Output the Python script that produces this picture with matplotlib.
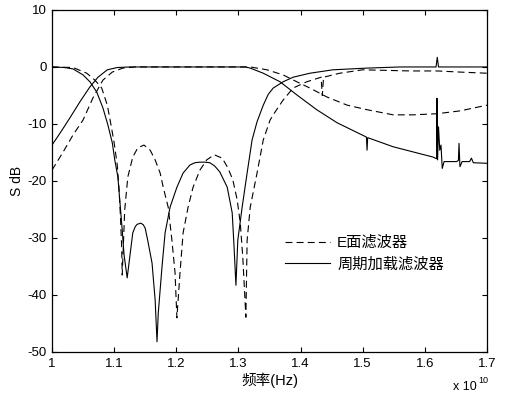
import matplotlib
matplotlib.use("Agg")
import matplotlib.pyplot as plt

plt.rcParams['font.family'] = ['Liberation Sans', 'Noto Sans CJK SC']
plt.rcParams['axes.unicode_minus'] = False
plt.rcParams['lines.scale_dashes'] = False

# frequencies in GHz, levels in dB
# periodically loaded filter, reflection
p_s11_f = [10.00, 10.20, 10.34, 10.50, 10.61, 10.72, 10.82, 10.90, 10.97, 11.01,
           11.06, 11.09, 11.13, 11.16, 11.21, 11.26, 11.30, 11.34, 11.37, 11.43,
           11.47, 11.50, 11.54, 11.61, 11.66, 11.69, 11.71, 11.77, 11.82, 11.90,
           12.01, 12.11, 12.22, 12.30, 12.38, 12.46, 12.54, 12.62, 12.70, 12.82,
           12.90, 12.93, 12.96, 12.99, 13.06, 13.14, 13.22, 13.30, 13.40, 13.48,
           13.56, 13.72, 13.88, 14.15, 14.52, 15.07, 15.60, 16.18, 16.20, 16.22,
           17.00]
p_s11_db = [0.0, -0.1, -0.35, -1.4, -2.6, -4.4, -7.2, -10.2, -13.3, -16.3,
            -19.3, -23.3, -28.6, -33.0, -37.0, -32.6, -29.1, -28.0, -27.6, -27.4,
            -27.7, -28.3, -30.4, -34.4, -40.9, -48.2, -43.2, -35.1, -29.1, -24.6,
            -21.1, -18.6, -17.2, -16.8, -16.7, -16.7, -16.8, -17.4, -18.4, -21.1,
            -25.6, -31.6, -38.3, -30.4, -24.6, -18.6, -12.8, -9.6, -6.7, -4.8,
            -3.7, -2.6, -1.8, -1.1, -0.5, -0.2, 0.0, 0.0, 1.7, 0.0,
            0.0]

# periodically loaded filter, transmission
p_s21_f = [10.00, 10.13, 10.29, 10.45, 10.61, 10.74, 10.89, 11.05, 11.25, 13.11,
           13.19, 13.40, 13.67, 13.94, 14.26, 14.59, 15.06, 15.07, 15.08, 15.49,
           16.13, 16.19, 16.195, 16.205, 16.22, 16.24, 16.26, 16.28, 16.31, 16.51,
           16.54, 16.55, 16.565, 16.60, 16.72, 16.75, 16.78, 17.00]
p_s21_db = [-13.7, -11.6, -8.9, -6.1, -3.5, -1.8, -0.5, -0.1, 0.0, 0.0,
            -0.2, -1.1, -2.6, -4.9, -7.5, -9.8, -12.3, -14.6, -12.4, -14.0,
            -15.8, -16.1, -5.5, -16.3, -10.5, -14.6, -13.7, -17.8, -16.6, -16.6,
            -16.4, -13.4, -17.5, -16.6, -16.6, -16.0, -16.8, -16.9]

# E-plane filter, reflection
e_s11_f = [10.00, 10.34, 10.56, 10.69, 10.80, 10.89, 10.95, 11.00, 11.05, 11.08,
           11.10, 11.12, 11.13, 11.17, 11.22, 11.30, 11.38, 11.48, 11.58, 11.66,
           11.74, 11.79, 11.87, 11.93, 11.98, 12.01, 12.06, 12.11, 12.19, 12.27,
           12.38, 12.49, 12.61, 12.74, 12.83, 12.91, 12.98, 13.03, 13.07, 13.12,
           13.14, 13.19, 13.30, 13.40, 13.51, 13.59, 13.72, 13.88, 14.10, 14.33,
           14.35, 14.37, 14.63, 15.00, 15.76, 16.20, 16.57, 17.00]
e_s11_db = [0.0, -0.1, -1.1, -2.3, -3.7, -6.7, -10.2, -13.3, -17.2, -21.6,
            -26.0, -31.2, -36.5, -25.1, -19.3, -15.8, -14.2, -13.7, -14.6, -16.3,
            -18.6, -21.1, -24.6, -30.4, -36.1, -44.0, -36.1, -29.1, -24.6, -21.1,
            -18.1, -16.3, -15.4, -16.0, -17.7, -19.8, -23.3, -27.4, -33.3, -43.9,
            -30.4, -24.6, -18.6, -12.8, -9.3, -7.9, -5.8, -3.7, -2.6, -1.8,
            -5.0, -1.8, -1.1, -0.5, -0.7, -0.7, -0.9, -1.1]

# E-plane filter, transmission
e_s21_f = [10.00, 10.18, 10.34, 10.50, 10.66, 10.82, 10.97, 11.14, 11.34, 13.03,
           13.19, 13.46, 13.72, 13.94, 14.15, 14.43, 14.75, 15.07, 15.49, 15.81,
           16.20, 16.57, 17.00]
e_s21_db = [-18.1, -14.9, -11.9, -9.3, -5.4, -2.3, -0.9, -0.2, 0.0, 0.0,
            0.0, -0.5, -1.4, -2.6, -3.7, -5.3, -6.7, -7.5, -8.4, -8.4,
            -8.2, -7.7, -6.7]

legend_labels = ['E面滤波器', '周期加载滤波器']
x_ticks = [1, 1.1, 1.2, 1.3, 1.4, 1.5, 1.6, 1.7]
y_ticks = [-50, -40, -30, -20, -10, 0, 10]


def to_axis(f_ghz):
    # axis is in units of 1e10 Hz
    return [f * 1e9 / 1e10 for f in f_ghz]


fig = plt.figure(figsize=(5.2, 3.98), dpi=100)
ax = fig.add_axes([0.1, 0.1156, 0.8365, 0.8594])

dash = (0, (5, 3))
ax.plot(to_axis(e_s11_f), e_s11_db, color='black', lw=0.8, linestyle=dash, label=legend_labels[0])
ax.plot(to_axis(e_s21_f), e_s21_db, color='black', lw=0.8, linestyle=dash)
ax.plot(to_axis(p_s11_f), p_s11_db, color='black', lw=0.8, label=legend_labels[1])
ax.plot(to_axis(p_s21_f), p_s21_db, color='black', lw=0.8)

ax.set_xlim(1, 1.7)
ax.set_ylim(-50, 10)
ax.set_xticks(x_ticks)
ax.set_xticklabels(['1', '1.1', '1.2', '1.3', '1.4', '1.5', '1.6', '1.7'])
ax.set_yticks(y_ticks)
ax.set_yticklabels([str(v) for v in y_ticks])
ax.tick_params(direction='in', length=3.6, width=0.8, top=True, right=True,
               labelsize=9.5, pad=4)
for s in ax.spines.values():
    s.set_linewidth(0.9)

ax.set_xlabel('频率(Hz)', fontsize=10.5, labelpad=2)
ax.set_ylabel('S dB', fontsize=10, labelpad=2)

fig.text(0.871, 0.012, 'x 10', fontsize=9, ha='left', va='bottom')
fig.text(0.919, 0.032, '10', fontsize=6.5, ha='left', va='bottom')

ax.legend(loc='center left', bbox_to_anchor=(0.536, 0.288), frameon=False,
          borderpad=0, borderaxespad=0, handlelength=2.95, handletextpad=0.45,
          labelspacing=0.45, prop={'size': 11})

fig.savefig('out.png', dpi=100)
